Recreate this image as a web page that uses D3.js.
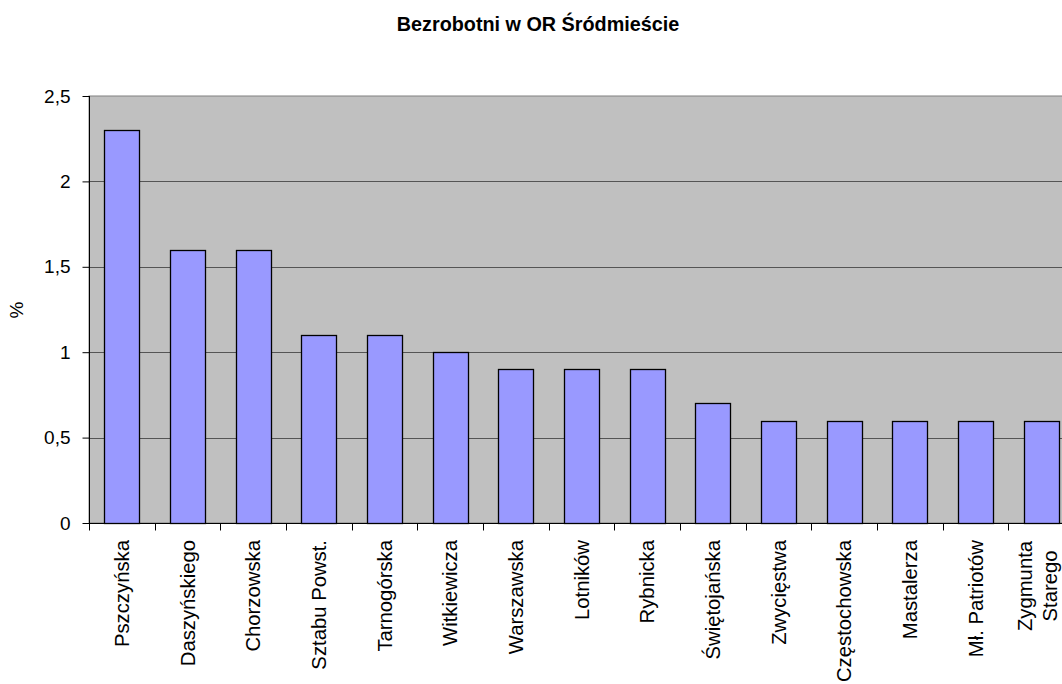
<!DOCTYPE html>
<html>
<head>
<meta charset="utf-8">
<script src="https://cdn.jsdelivr.net/npm/d3@7"></script>
<style>
  body { margin: 0; background: #fff; }
  svg { display: block; font-family: "Liberation Sans", Arial, sans-serif; }
</style>
</head>
<body>
<svg id="chart" width="1062" height="684"></svg>
<script>
const categories = [
  "Pszczyńska", "Daszyńskiego", "Chorzowska", "Sztabu Powst.", "Tarnogórska",
  "Witkiewicza", "Warszawska", "Lotników", "Rybnicka", "Świętojańska",
  "Zwycięstwa", "Częstochowska", "Mastalerza", "Mł. Patriotów", "Zygmunta Starego"
];
const values = [2.3, 1.6, 1.6, 1.1, 1.1, 1.0, 0.9, 0.9, 0.9, 0.7, 0.6, 0.6, 0.6, 0.6, 0.6];
const yTicks = [0, 0.5, 1, 1.5, 2, 2.5];

const svg = d3.select("#chart");
const plot = { left: 89, top: 96, bottom: 523, band: 65.67 };
const plotRight = plot.left + plot.band * categories.length;

const x = d3.scaleBand()
  .domain(categories)
  .range([plot.left, plotRight])
  .paddingInner(0.465)
  .paddingOuter(0.2325);

const y = d3.scaleLinear().domain([0, 2.5]).range([plot.bottom, plot.top]);

// plot background
svg.append("rect")
  .attr("x", plot.left).attr("y", plot.top)
  .attr("width", plotRight - plot.left).attr("height", plot.bottom - plot.top)
  .attr("fill", "#c0c0c0")
  .attr("stroke", "#808080").attr("stroke-width", 1);

// gridlines
svg.append("g")
  .selectAll("line")
  .data(yTicks.filter((t) => t > 0 && t < 2.5))
  .join("line")
  .attr("x1", plot.left).attr("x2", plotRight)
  .attr("y1", (d) => Math.round(y(d)) + 0.5).attr("y2", (d) => Math.round(y(d)) + 0.5)
  .attr("stroke", "#555").attr("stroke-width", 1);

// bars
svg.append("g")
  .selectAll("rect")
  .data(categories)
  .join("rect")
  .attr("x", (d) => Math.round(x(d)) + 0.5)
  .attr("y", (d, i) => Math.round(y(values[i])) + 0.5)
  .attr("width", Math.round(x.bandwidth()))
  .attr("height", (d, i) => Math.round(plot.bottom - y(values[i])))
  .attr("fill", "#9999ff")
  .attr("stroke", "#000").attr("stroke-width", 1.3);

// y axis
const yAxis = svg.append("g")
  .attr("transform", `translate(${plot.left + 0.5},0)`)
  .call(d3.axisLeft(y).tickValues(yTicks).tickSize(7).tickPadding(12)
    .tickFormat((d) => String(d).replace(".", ",")));
yAxis.select(".domain").attr("stroke", "#000").attr("d", `M0,${plot.top}V${plot.bottom}`);
yAxis.selectAll(".tick line").attr("stroke", "#000");
yAxis.selectAll("text")
  .style("font-size", "19px").attr("fill", "#000")
  .style("font-family", "Liberation Sans, Arial, sans-serif");

// x axis
const xAxis = svg.append("g")
  .attr("transform", `translate(0,${plot.bottom + 0.5})`);
xAxis.append("line")
  .attr("x1", plot.left).attr("x2", plotRight)
  .attr("stroke", "#000");
xAxis.selectAll("line.tick")
  .data(d3.range(categories.length + 1))
  .join("line")
  .attr("class", "tick")
  .attr("x1", (i) => Math.round(plot.left + i * plot.band) + 0.5)
  .attr("x2", (i) => Math.round(plot.left + i * plot.band) + 0.5)
  .attr("y1", 0).attr("y2", 7)
  .attr("stroke", "#000");

const labels = svg.append("g");
categories.forEach((c) => {
  const cx = x(c) + x.bandwidth() / 2;
  const words = c === "Zygmunta Starego" ? ["Zygmunta", "Starego"] : [c];
  const t = labels.append("text")
    .attr("transform", `translate(${cx},540) rotate(-90)`)
    .style("font-size", "20.3px")
    .attr("fill", "#000")
    .attr("text-anchor", words.length > 1 ? "middle" : "end");
  if (words.length > 1) {
    words.forEach((w, i) => {
      t.append("tspan")
        .attr("x", -46)
        .attr("y", i === 0 ? -9 : 16)
        .text(w);
    });
  } else {
    t.attr("dy", "0.35em").text(c);
  }
});

// y label
svg.append("text")
  .attr("transform", "translate(23,310) rotate(-90)")
  .attr("text-anchor", "middle")
  .style("font-size", "19px")
  .text("%");

// title
svg.append("text")
  .attr("x", 538).attr("y", 31)
  .attr("text-anchor", "middle")
  .style("font-size", "19.8px").attr("font-weight", "bold")
  .text("Bezrobotni w OR Śródmieście");
</script>
</body>
</html>
